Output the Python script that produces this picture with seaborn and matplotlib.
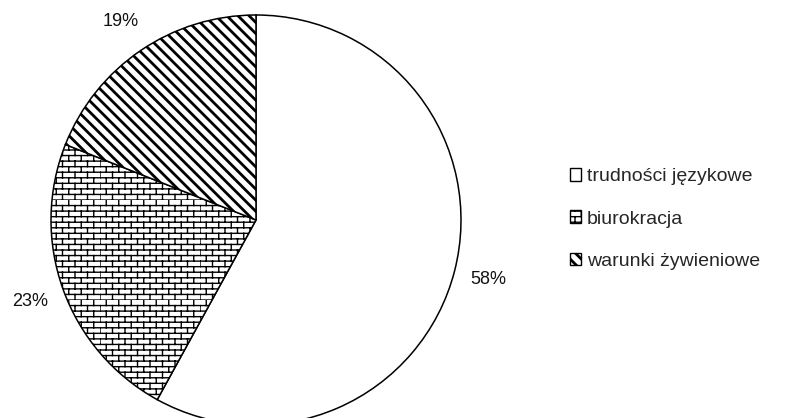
import warnings
import numpy as np
import matplotlib
matplotlib.use('Agg')
import matplotlib.pyplot as plt
from matplotlib import hatch as mhatch
from matplotlib.path import Path
from matplotlib.patches import Patch
import seaborn as sns

warnings.filterwarnings('ignore')

labels = ['trudności językowe', 'biurokracja', 'warunki żywieniowe']
shares = [58, 23, 19]
hatches = ['', 'B', '\\\\\\']


class BrickHatch(mhatch.HatchPatternBase):
    # brick wall pattern, triggered by 'B' in the hatch string
    def __init__(self, hatch, density):
        self.rows = 18 if 'B' in hatch else 0
        self.cols = 8
        self.num_vertices = (self.rows + self.rows * self.cols) * 2

    def set_vertices_and_codes(self, vertices, codes):
        h = 1.0 / self.rows
        k = 0
        for i in range(self.rows):
            y = i * h
            vertices[k] = (0, y); vertices[k + 1] = (1, y)
            k += 2
            off = 0.5 * (i % 2) / self.cols
            for j in range(self.cols):
                x = j / self.cols + off
                vertices[k] = (x, y); vertices[k + 1] = (x, y + h)
                k += 2
        codes[0::2] = Path.MOVETO
        codes[1::2] = Path.LINETO


mhatch._hatch_types.append(BrickHatch)


def thick_hatch(artist, lw):
    # draw this artist with a heavier hatch line
    if hasattr(artist, 'set_hatch_linewidth'):
        artist.set_hatch_linewidth(lw)
    orig = artist.draw

    def draw(renderer, orig=orig):
        with plt.rc_context({'hatch.linewidth': lw}):
            orig(renderer)
    artist.draw = draw


sns.set_theme(style='white')
plt.rcParams['font.family'] = ['Liberation Sans', 'DejaVu Sans']
plt.rcParams['hatch.linewidth'] = 1.0
plt.rcParams['hatch.color'] = 'black'

fig = plt.figure(figsize=(8.05, 4.18), dpi=100)
ax = fig.add_axes([51 / 805, -7 / 418, 410 / 805, 410 / 418])

wedges, texts, autotexts = ax.pie(
    shares, startangle=90, counterclock=False, colors=['white'] * 3,
    wedgeprops=dict(edgecolor='black', linewidth=1.1),
    autopct='%d%%', pctdistance=1.17,
    textprops=dict(fontsize=13, color='#111111'))
for w, h in zip(wedges, hatches):
    w.set_hatch(h)
    if h.startswith('\\'):
        thick_hatch(w, 2.0)

ax.set_xlim(-1, 1)
ax.set_ylim(-1, 1)
ax.set_aspect('auto')

handles = []
for w, lab in zip(wedges, labels):
    p = Patch(facecolor='white', edgecolor='black', hatch=w.get_hatch(), label=lab)
    handles.append(p)
leg = fig.legend(handles=handles, loc='center left', bbox_to_anchor=(552 / 805, 1 - 219 / 418),
                 frameon=False, fontsize=14, handlelength=0.6, handleheight=0.6,
                 handletextpad=0.3, labelspacing=1.3)
for h in leg.legend_handles:
    if h.get_hatch() and h.get_hatch().startswith('\\'):
        thick_hatch(h, 2.0)

fig.savefig('out.png', dpi=100, facecolor='white')
